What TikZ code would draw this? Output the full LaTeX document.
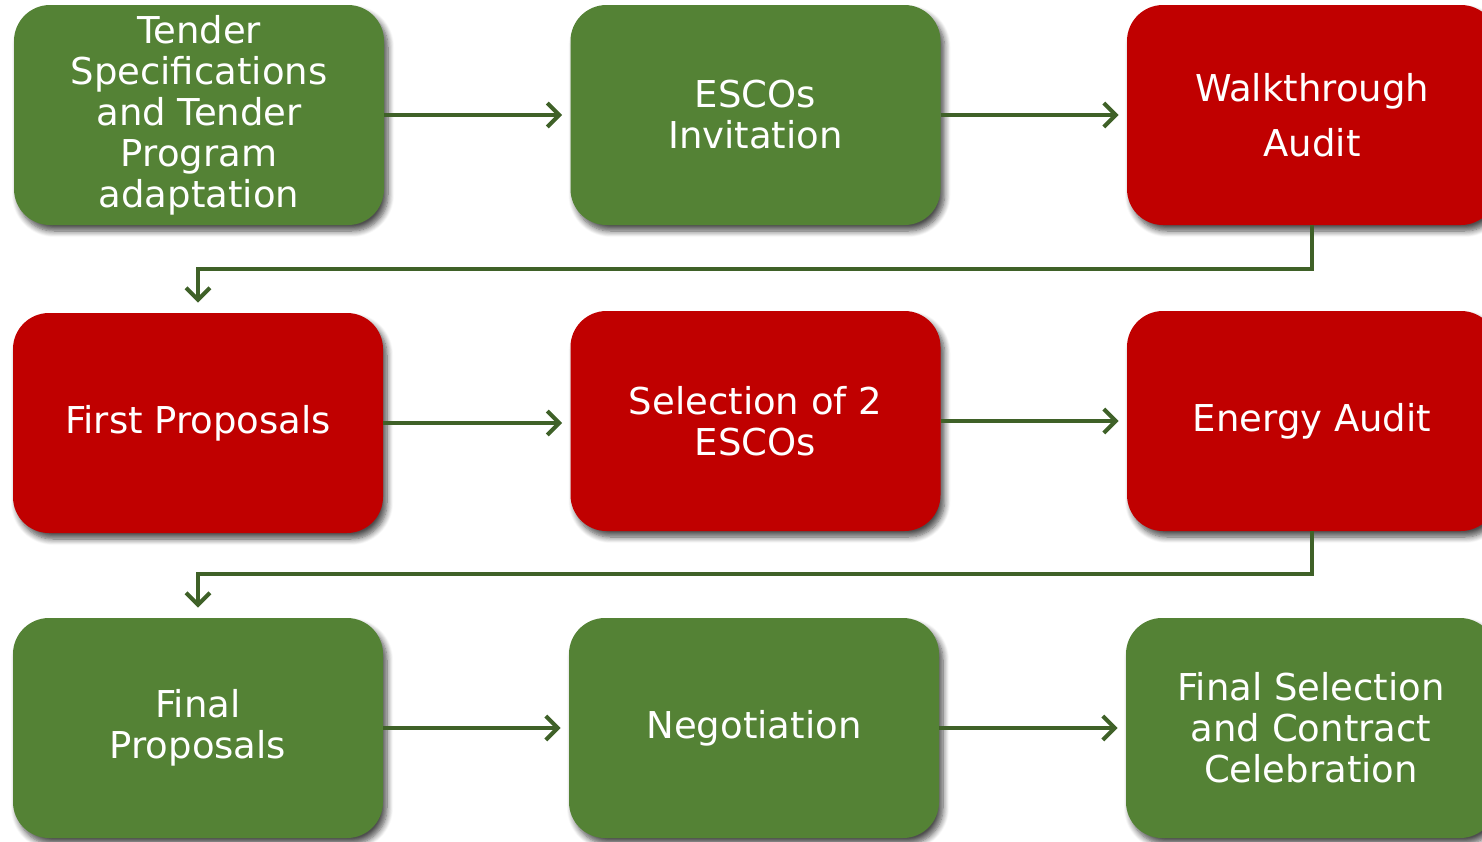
\documentclass[tikz,border=0pt]{standalone}
\usepackage{fontspec}
\setmainfont{DejaVu Sans}
\usetikzlibrary{shadows,shadows.blur,arrows.meta}
\definecolor{boxgreen}{HTML}{548235}
\definecolor{boxred}{HTML}{C00000}
\definecolor{arrowgreen}{HTML}{3F6128}
\tikzset{
  stagebox/.style={rounded corners=18pt, minimum width=185pt, minimum height=110pt,
    text=white, align=center, font=\fontsize{18.5}{20.5}\selectfont, inner sep=0pt,
    blur shadow={shadow xshift=2pt, shadow yshift=-3pt, shadow opacity=70, shadow blur radius=3pt, shadow blur steps=8}},
  greenbox/.style={stagebox, fill=boxgreen},
  redbox/.style={stagebox, fill=boxred},
  flow/.style={draw=arrowgreen, line width=2pt, -{Straight Barb[length=6pt,width=12pt,line width=2pt]}}
}
\begin{document}
\begin{tikzpicture}[x=0.5pt,y=-0.5pt]
\useasboundingbox (0,0) rectangle (1482,841);
\node[greenbox] (a) at (199,115) {Tender\\Specifications\\and Tender\\Program\\adaptation};
\node[greenbox] (b) at (755.5,115) {ESCOs\\Invitation};
\node[redbox, font=\fontsize{18.5}{27.5}\selectfont] (c) at (1312,115) {Walkthrough\\Audit};
\node[redbox] (d) at (198,423) {First Proposals};
\node[redbox] (e) at (755.5,421) {Selection of 2\\ESCOs};
\node[redbox] (f) at (1312,421) {Energy Audit};
\node[greenbox] (g) at (198,728) {Final\\Proposals};
\node[greenbox] (h) at (754,728) {Negotiation};
\node[greenbox] (i) at (1311,728) {Final Selection\\and Contract\\Celebration};
\draw[flow] (a.east) -- ([xshift=-4pt]b.west);
\draw[flow] (b.east) -- ([xshift=-4pt]c.west);
\draw[flow] (c.south) -- ++(0,44) -| ([yshift=5pt]d.north);
\draw[flow] (d.east) -- ([xshift=-4pt]e.west |- d.east);
\draw[flow] (e.east) -- ([xshift=-4pt]f.west);
\draw[flow] (f.south) -- ++(0,43) -| ([yshift=5pt]g.north);
\draw[flow] (g.east) -- ([xshift=-4pt]h.west);
\draw[flow] (h.east) -- ([xshift=-4pt]i.west);
\end{tikzpicture}
\end{document}
